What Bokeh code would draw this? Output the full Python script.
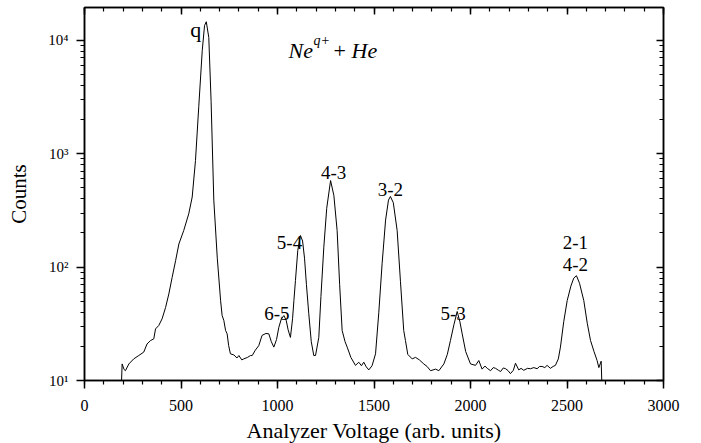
from bokeh.plotting import figure
from bokeh.models import (Range1d, LinearAxis, LogAxis, FixedTicker,
                          SingleIntervalTicker, ColumnDataSource, CustomJSTickFormatter)
from bokeh.core.properties import value
from bokeh.embed import file_html
from bokeh.resources import INLINE

# ---- data ----
voltage = [190, 195, 205, 212, 230, 255, 281, 307, 324, 342, 359, 368, 385, 402,
           420, 437, 454, 472, 489, 514, 540, 558, 575, 592, 610, 622, 631, 644,
           656, 670, 688, 705, 713, 722, 731, 739, 747, 756, 774, 790, 800, 815,
           825, 845, 860, 869, 885, 903, 920, 940, 955, 968, 981, 995, 1007, 1020,
           1033, 1045, 1055, 1067, 1078, 1085, 1093, 1105, 1119, 1130, 1140, 1150,
           1162, 1175, 1188, 1197, 1214, 1225, 1240, 1255, 1275, 1292, 1309, 1322,
           1335, 1350, 1361, 1380, 1404, 1421, 1435, 1447, 1460, 1473, 1490, 1508,
           1525, 1542, 1560, 1575, 1585, 1600, 1620, 1637, 1654, 1663, 1675, 1698,
           1715, 1735, 1758, 1775, 1793, 1819, 1836, 1862, 1880, 1896, 1914, 1931,
           1945, 1957, 1975, 2000, 2026, 2043, 2060, 2075, 2087, 2104, 2118, 2130,
           2145, 2156, 2170, 2182, 2195, 2207, 2222, 2233, 2250, 2262, 2276, 2295,
           2311, 2328, 2345, 2358, 2371, 2385, 2397, 2414, 2428, 2440, 2455, 2466,
           2483, 2501, 2520, 2535, 2549, 2565, 2587, 2605, 2622, 2640, 2656, 2665,
           2677, 2682]
counts = [8, 14.0, 12.5, 12.2, 14.0, 15.5, 16.6, 17.8, 21.0, 22.5, 23.3, 28.5, 30.6, 35.0,
          44, 58, 81, 114, 160, 210, 295, 415, 870, 2600, 8100, 13500, 14600, 10600,
          2900, 390, 120, 51, 37.5, 33.8, 27.6, 25.8, 20.3, 17.2, 16.8, 15.8, 16.6, 15.2,
          15.5, 16.0, 16.6, 16.6, 18.5, 20.3, 25, 26, 25.8, 22, 19.7, 23, 29.5, 35,
          37.4, 34, 28, 24, 35, 50.7, 76, 140, 190, 170, 120, 70,
          38.8, 22, 16.6, 16.6, 24, 55, 150, 330, 580, 430, 210, 70,
          27.6, 22, 19.7, 16, 13.6, 14.5, 13.5, 14.5, 13.2, 12.4, 13.5, 17.2,
          40, 107, 260, 390, 420, 370, 210, 75, 27.6, 22.5, 17, 15.5,
          16.0, 15.2, 14.0, 13.3, 12.2, 12.6, 12.2, 14.0, 17, 22.5, 31, 40.6,
          33, 25.8, 18, 14.0, 13.6, 15.0, 12.6, 13.4, 12.8, 12.2, 13.0, 12.8,
          12.3, 12.0, 12.9, 12.7, 12.2, 11.5, 12.3, 14.2, 12.4, 12.8, 12.3, 12.8,
          12.7, 13.0, 12.7, 13.3, 13.3, 13.0, 13.6, 12.8, 13.3, 13.6, 15.5, 19.7,
          33, 50.7, 68, 80, 84, 72, 50.7, 32, 22.5, 18, 15.0, 13.0,
          14.8, 8]

peak_names = ["6-5", "5-4", "4-3", "3-2", "5-3", "2-1", "4-2"]
peak_voltage = [1033, 1119, 1275, 1585, 1931, 2549, 2549]
peak_counts = [37.4, 190, 580, 420, 40.6, 84, 84]

main_peak_name = ["q"]
main_peak_voltage = [631]
main_peak_counts = [14600]

x_ticks = [0, 500, 1000, 1500, 2000, 2500, 3000]
y_ticks = [10, 100, 1000, 10000]
y_tick_labels = ["10\u00b9", "10\u00b2", "10\u00b3", "10\u2074"]

# ---- layout / style (not data) ----
label_dx = [-7, -11, 3, 0, -4, -1, -1]
label_dy = [-2, 7, -8, -7, 2, -33, -11]

FONT = "Liberation Serif"

p = figure(frame_width=579, frame_height=373,
           min_border_left=84, min_border_right=38,
           min_border_top=7, min_border_bottom=63,
           x_range=Range1d(0, 3000), y_range=Range1d(10, 19500),
           y_axis_type="log", output_backend="svg", toolbar_location=None,
           background_fill_color="white", border_fill_color="white")
p.grid.visible = False
p.outline_line_color = "black"
p.outline_line_width = 1.5

minor_y = [m * 10 ** e for e in range(1, 5) for m in range(2, 10)]
yticker = FixedTicker(ticks=y_ticks, minor_ticks=minor_y)
xticker = SingleIntervalTicker(interval=500, num_minor_ticks=5)

def style_axis(ax, outward):
    ax.axis_line_color = "black"
    ax.axis_line_width = 1.5
    ax.major_tick_line_color = "black"
    ax.major_tick_line_width = 1.5
    ax.minor_tick_line_color = "black"
    ax.minor_tick_line_width = 1.2
    if outward:
        ax.major_tick_out, ax.major_tick_in = 8, 0
        ax.minor_tick_out, ax.minor_tick_in = 4, 0
    else:
        ax.major_tick_out, ax.major_tick_in = 0, 7
        ax.minor_tick_out, ax.minor_tick_in = 0, 4
        ax.formatter = CustomJSTickFormatter(code="return ''")
        ax.major_label_standoff = 0

xa = p.xaxis[0]
xa.ticker = xticker
style_axis(xa, True)
xa.major_label_text_font = FONT
xa.major_label_text_font_size = "16px"
xa.major_label_text_color = "black"
xa.major_label_standoff = 11
xa.axis_label = "Analyzer Voltage (arb. units)"
xa.axis_label_text_font = FONT
xa.axis_label_text_font_size = "22px"
xa.axis_label_text_font_style = "normal"
xa.axis_label_text_color = "black"
xa.axis_label_standoff = 4

ya = p.yaxis[0]
ya.ticker = yticker
style_axis(ya, True)
ya.major_label_overrides = {t: s for t, s in zip(y_ticks, y_tick_labels)}
ya.major_label_text_font = FONT
ya.major_label_text_font_size = "15px"
ya.major_label_text_color = "black"
ya.major_label_standoff = 8
ya.axis_label = "Counts"
ya.axis_label_text_font = FONT
ya.axis_label_text_font_size = "21px"
ya.axis_label_text_font_style = "normal"
ya.axis_label_text_color = "black"
ya.axis_label_standoff = 14

top = LinearAxis(ticker=xticker)
style_axis(top, False)
p.add_layout(top, "above")
right = LogAxis(ticker=yticker)
style_axis(right, False)
p.add_layout(right, "right")

p.line(voltage, counts, line_color="black", line_width=1)

src = ColumnDataSource(dict(x=peak_voltage, y=peak_counts, text=peak_names,
                            dx=label_dx, dy=label_dy))
p.text(x="x", y="y", text="text", x_offset="dx", y_offset="dy", source=src,
       text_font=value(FONT), text_font_size="19px", text_color="black",
       text_align="center", text_baseline="alphabetic")

p.text(x=main_peak_voltage, y=main_peak_counts, text=main_peak_name,
       x_offset=-5, y_offset=8, text_font=value(FONT), text_font_size="22px",
       text_color="black", text_align="right", text_baseline="alphabetic")

# reaction label  Ne^{q+} + He
rx, ry = 1057, 8130
p.text(x=[rx], y=[ry], text=["Ne"], text_font=value(FONT), text_font_size="22px",
       text_font_style="italic", text_color="black", text_align="left",
       text_baseline="alphabetic")
p.text(x=[rx], y=[ry], text=["q+"], x_offset=25, y_offset=-10, text_font=value(FONT),
       text_font_size="14px", text_font_style="italic", text_color="black",
       text_align="left", text_baseline="alphabetic")
p.text(x=[rx], y=[ry], text=["+"], x_offset=45, text_font=value(FONT),
       text_font_size="22px", text_color="black", text_align="left",
       text_baseline="alphabetic")
p.text(x=[rx], y=[ry], text=["He"], x_offset=63, text_font=value(FONT),
       text_font_size="22px", text_font_style="italic", text_color="black",
       text_align="left", text_baseline="alphabetic")

open("out.html", "w").write(file_html(p, INLINE))
